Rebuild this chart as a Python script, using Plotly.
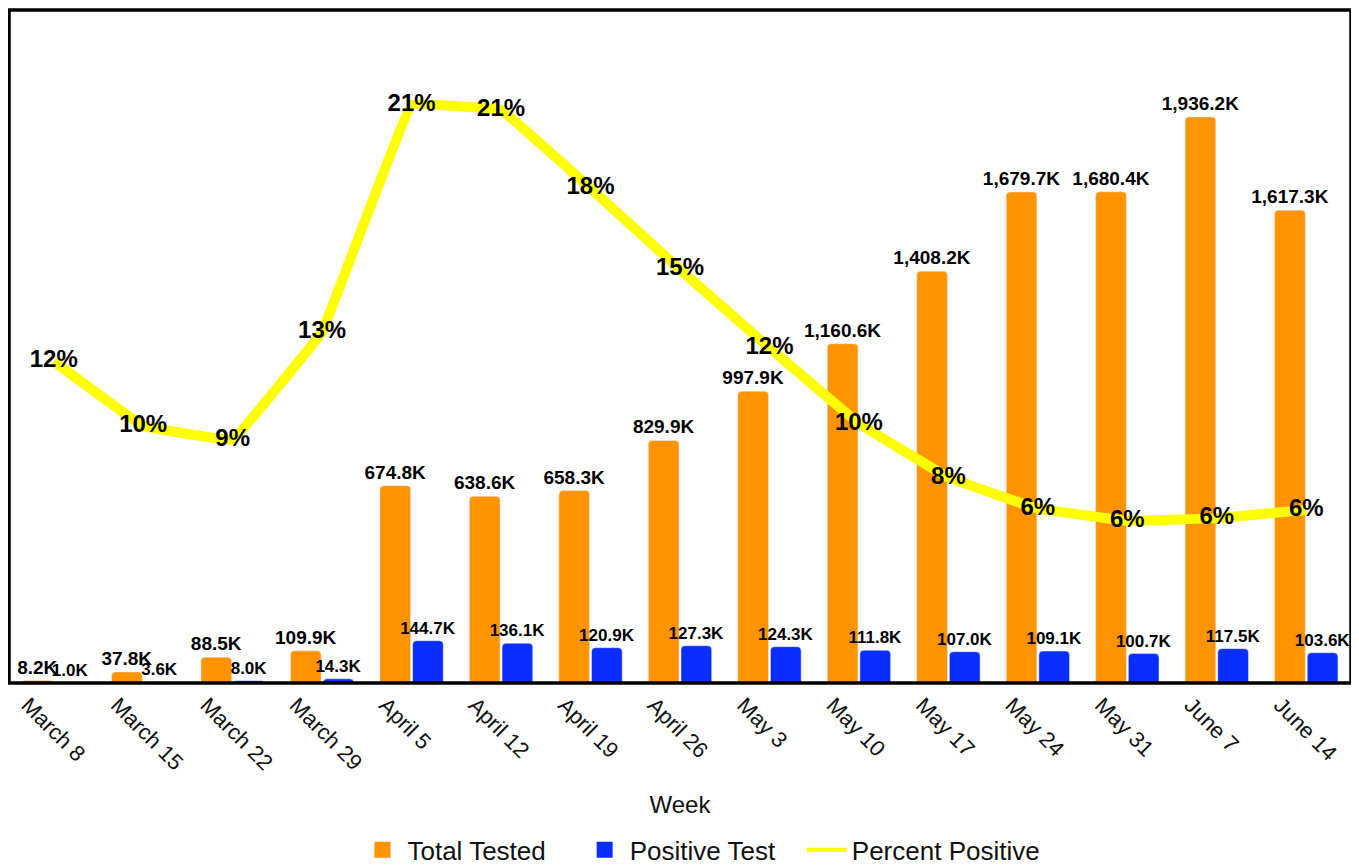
import plotly.graph_objects as go

weeks = ["March 8", "March 15", "March 22", "March 29", "April 5", "April 12", "April 19",
         "April 26", "May 3", "May 10", "May 17", "May 24", "May 31", "June 7", "June 14"]
total_tested_k = [8.2, 37.8, 88.5, 109.9, 674.8, 638.6, 658.3, 829.9, 997.9, 1160.6,
                  1408.2, 1679.7, 1680.4, 1936.2, 1617.3]
positive_k = [1.0, 3.6, 8.0, 14.3, 144.7, 136.1, 120.9, 127.3, 124.3, 111.8,
              107.0, 109.1, 100.7, 117.5, 103.6]
percent_positive = [11.9, 9.5, 9.0, 13.0, 21.4, 21.2, 18.3, 15.3, 12.4, 9.6,
                    7.6, 6.45, 6.0, 6.1, 6.4]
series_names = ["Total Tested", "Positive Test", "Percent Positive"]

FONT = "Liberation Sans, Arial, Helvetica, sans-serif"
ORANGE = "#FF9300"
BLUE = "#0A2EFF"
YELLOW = "#FFFF00"
NBSP = "\u00a0"

fig = go.Figure()
fig.add_trace(go.Bar(
    x=weeks, y=total_tested_k, name=series_names[0], showlegend=False,
    marker=dict(color=ORANGE),
    texttemplate="<b>%{y:,.1f}K</b>", textposition="outside",
    textfont=dict(family=FONT, size=19, color="black"),
    constraintext="none", cliponaxis=False,
))
fig.add_trace(go.Bar(
    x=weeks, y=positive_k, name=series_names[1], showlegend=False,
    marker=dict(color=BLUE),
    texttemplate="<b>%{y:,.1f}K</b>", textposition="outside",
    textfont=dict(family=FONT, size=17, color="black"),
    constraintext="none", cliponaxis=False,
))
fig.add_trace(go.Scatter(
    x=weeks, y=percent_positive, name=series_names[2], yaxis="y2", showlegend=False,
    mode="lines+text", line=dict(color=YELLOW, width=10, shape="spline", smoothing=0.12),
    texttemplate="<b>%{y:.0f}%</b>", textposition="middle center",
    textfont=dict(family=FONT, size=24, color="black"), cliponaxis=False,
))
# legend entries (trailing spaces widen the gaps between entries as in the original)
fig.add_trace(go.Scatter(x=[None], y=[None], mode="markers", name=series_names[0] + NBSP * 4,
                         marker=dict(symbol="square", size=18, color=ORANGE)))
fig.add_trace(go.Scatter(x=[None], y=[None], mode="markers", name=series_names[1] + NBSP * 3,
                         marker=dict(symbol="square", size=18, color=BLUE)))
fig.add_trace(go.Scatter(x=[None], y=[None], mode="lines", name=series_names[2],
                         line=dict(color=YELLOW, width=4)))

fig.update_layout(
    width=1343, height=857,
    margin=dict(l=1, r=0, t=2, b=182, autoexpand=False),
    paper_bgcolor="white", plot_bgcolor="white",
    barmode="group", bargap=0.27, bargroupgap=0.06, barcornerradius=4,
    font=dict(family=FONT, color="black"),
    xaxis=dict(
        range=[-0.5, len(weeks) - 0.5], autorange=False,
        tickangle=45, tickfont=dict(size=22, color="#111"), showgrid=False,
        title=dict(text="Week", font=dict(size=24, color="#111"), standoff=22), ticks="",
        ticklabelshift=-26, ticklabelstandoff=4, automargin=False,
    ),
    yaxis=dict(range=[0, 2302], visible=False, showgrid=False),
    yaxis2=dict(range=[0, 24.9], overlaying="y", visible=False, showgrid=False),
    legend=dict(orientation="h", x=0.516, xanchor="center", y=-0.248, yanchor="middle",
                font=dict(size=26, color="#111"), traceorder="normal", itemwidth=40),
    showlegend=True,
    shapes=[dict(type="rect", xref="paper", yref="paper", x0=0, y0=0, x1=1, y1=1,
                 line=dict(color="black", width=3.5), layer="above")],
)

fig.write_html("out.html")
